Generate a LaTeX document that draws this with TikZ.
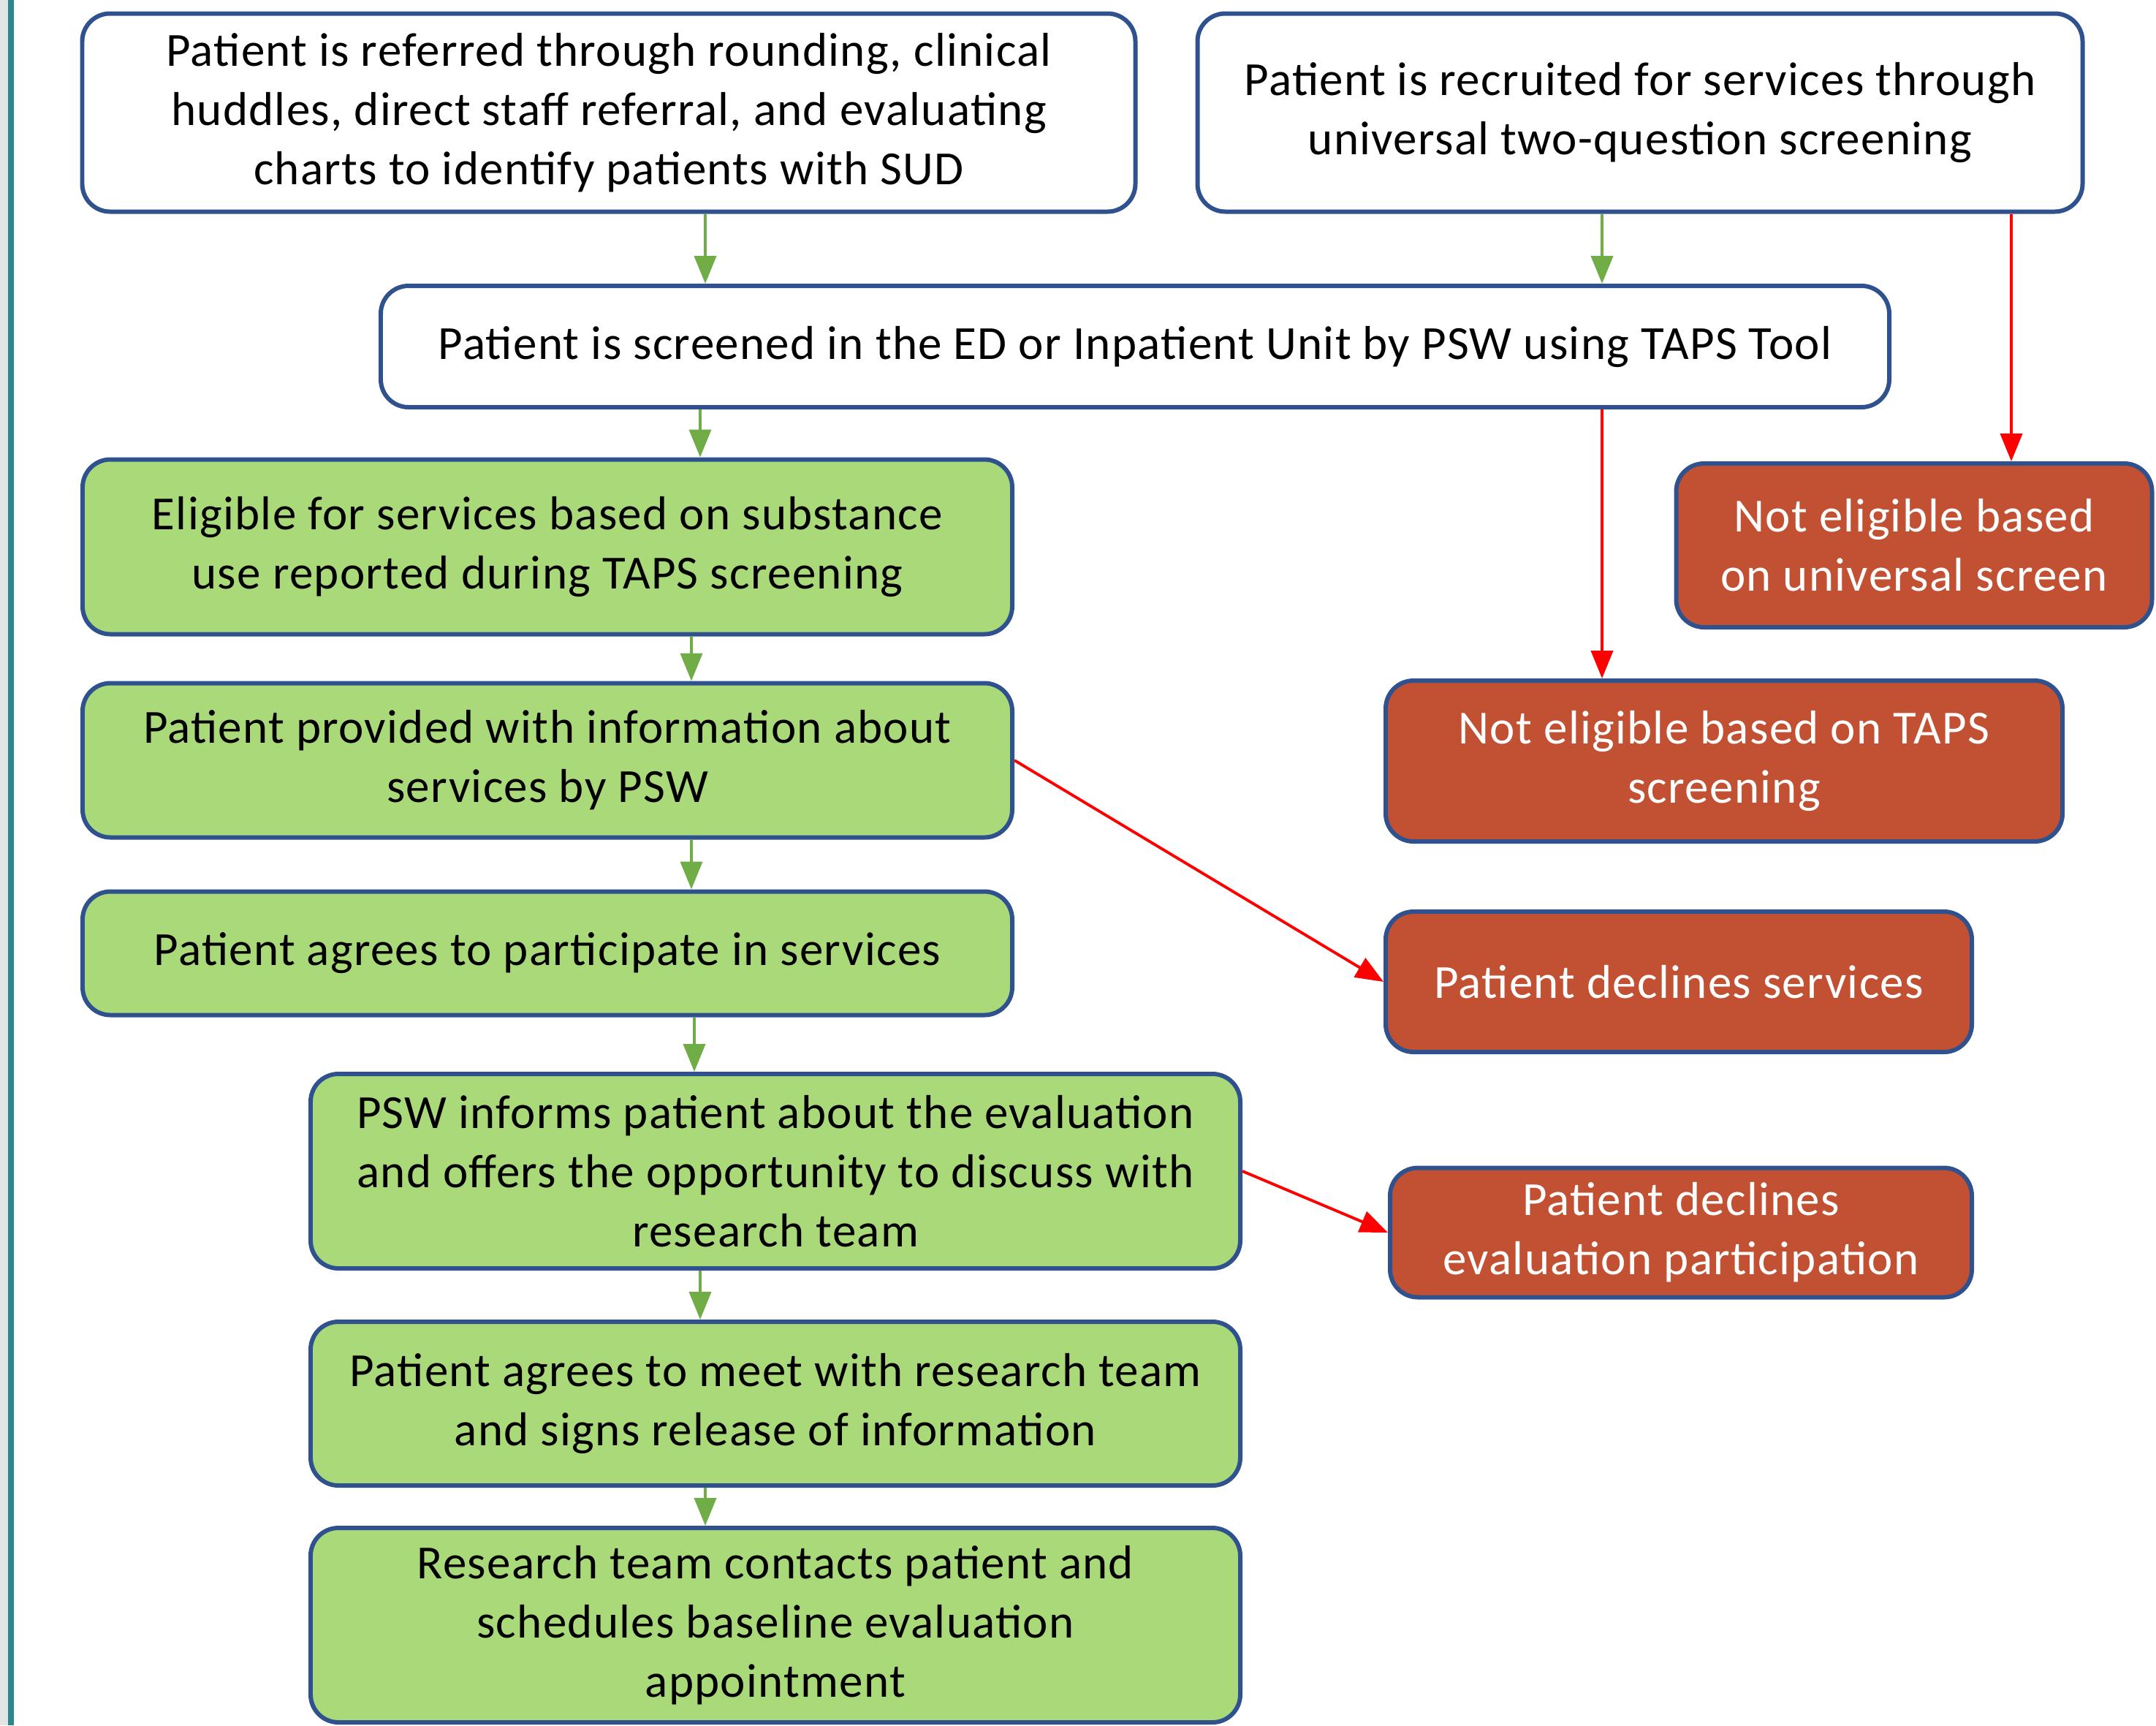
\documentclass[tikz,border=0pt]{standalone}
\usepackage{fontspec}
\setmainfont[LetterSpace=2]{Carlito}
\usepackage{tikz}
\usetikzlibrary{positioning,arrows.meta}
\definecolor{boxBorder}{RGB}{47,82,143}
\definecolor{boxGreen}{RGB}{169,217,120}
\definecolor{boxRed}{RGB}{193,81,50}
\definecolor{arrowGreen}{RGB}{112,173,71}
\definecolor{stripTeal}{RGB}{42,135,146}
\definecolor{stripGrey}{RGB}{228,228,228}
\newcommand\boxFont{\fontsize{18.5}{23}\selectfont}
\tikzset{
    baseBox/.style =   {draw=boxBorder, line width=1.7pt, rounded corners=0.38cm, align=center, font=\boxFont, inner sep=0pt},
    startBox/.style =  {baseBox, fill=white, text=black},
    goBox/.style =     {baseBox, fill=boxGreen, text=black},
    stopBox/.style =   {baseBox, fill=boxRed, text=white},
    goArrow/.style =   {draw=arrowGreen, line width=1.1pt, -{Triangle[width=0.3cm,length=0.38cm]}},
    stopArrow/.style = {draw=red, line width=1.1pt, -{Triangle[width=0.3cm,length=0.38cm]}}
}

\begin{document}
\begin{tikzpicture}
  \useasboundingbox (0,0) rectangle (29.5,-23.6);

  % Side strip
  \fill[stripGrey] (0,0) rectangle (0.11,-23.6);
  \fill[stripTeal] (0.11,0) rectangle (0.19,-23.6);

  % Entry boxes
  \node [startBox, minimum width=14.41cm, minimum height=2.71cm] (referral) at (8.33,-1.54)
    {Patient is referred through rounding, clinical\\huddles, direct staff referral, and evaluating\\charts to identify patients with SUD};
  \node [startBox, minimum width=12.11cm, minimum height=2.71cm] (recruit) at (22.44,-1.54)
    {Patient is recruited for services through\\universal two-question screening};
  \node [startBox, minimum width=20.64cm, minimum height=1.66cm] (screen) at (15.53,-4.74)
    {Patient is screened in the ED or Inpatient Unit by PSW using TAPS Tool};

  % Steps that go on
  \node [goBox, minimum width=12.72cm, minimum height=2.39cm] (eligible) at (7.49,-7.48)
    {Eligible for services based on substance\\use reported during TAPS screening};
  \node [goBox, minimum width=12.72cm, minimum height=2.11cm] (informed) at (7.49,-10.40)
    {Patient provided with information about\\services by PSW};
  \node [goBox, minimum width=12.72cm, minimum height=1.69cm] (agrees) at (7.49,-13.04)
    {Patient agrees to participate in services};
  \node [goBox, minimum width=12.72cm, minimum height=2.66cm] (evalInfo) at (10.61,-16.02)
    {PSW informs patient about the evaluation\\and offers the opportunity to discuss with\\research team};
  \node [goBox, minimum width=12.72cm, minimum height=2.24cm] (release) at (10.61,-19.20)
    {Patient agrees to meet with research team\\and signs release of information};
  \node [goBox, minimum width=12.72cm, minimum height=2.66cm] (baseline) at (10.61,-22.23)
    {Research team contacts patient and\\schedules baseline evaluation\\appointment};

  % Steps that stop
  \node [stopBox, minimum width=6.51cm, minimum height=2.24cm] (notUniversal) at (26.19,-7.46)
    {Not eligible based\\on universal screen};
  \node [stopBox, minimum width=9.26cm, minimum height=2.20cm] (notTaps) at (23.59,-10.41)
    {Not eligible based on TAPS\\screening};
  \node [stopBox, minimum width=8.02cm, minimum height=1.92cm] (declineServ) at (22.97,-13.43)
    {Patient declines services};
  \node [stopBox, minimum width=7.96cm, minimum height=1.77cm] (declineEval) at (23.00,-16.86)
    {Patient declines\\evaluation participation};

  % Green arrows down the left column
  \foreach \from/\to/\x in {referral/screen/9.65, screen/eligible/9.58, eligible/informed/9.46,
                            informed/agrees/9.46, agrees/evalInfo/9.50, evalInfo/release/9.58,
                            release/baseline/9.65}
  {
    \coordinate (axis) at (\x,0);
    \draw[goArrow] (\from.south -| axis) -- (\to.north -| axis);
  }

  % Arrows on the right
  \coordinate (tapsAxis) at (21.92,0);
  \coordinate (universalAxis) at (27.52,0);
  \draw[goArrow] (recruit.south -| tapsAxis) -- (screen.north -| tapsAxis);
  \draw[stopArrow] (recruit.south -| universalAxis) -- (notUniversal.north -| universalAxis);
  \draw[stopArrow] (screen.south -| tapsAxis) -- (notTaps.north -| tapsAxis);

  % Declines
  \draw[stopArrow] (informed.east) -- (declineServ.west);
  \draw[stopArrow] (evalInfo.east) -- (declineEval.west);

\end{tikzpicture}
\end{document}
